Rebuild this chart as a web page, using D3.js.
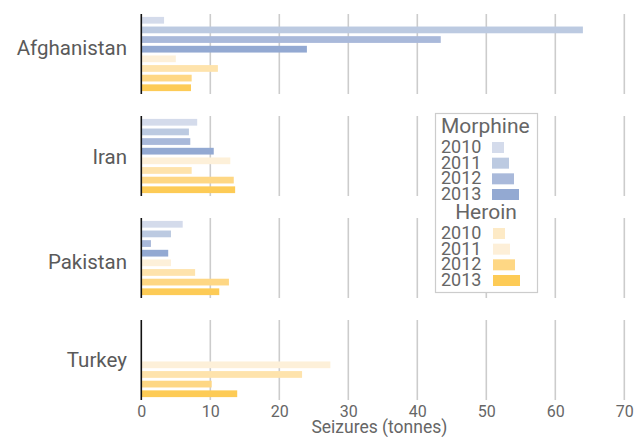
<!DOCTYPE html>
<html>
<head>
<meta charset="utf-8">
<script src="https://cdn.jsdelivr.net/npm/d3@7"></script>
<style>
  html, body { margin: 0; padding: 0; background: #fff; }
  svg { display: block; font-family: Roboto, "Liberation Sans", sans-serif; }
</style>
</head>
<body>
<svg id="chart" width="637" height="437"></svg>
<script>
// ---- data ----
const countries = ["Afghanistan", "Iran", "Pakistan", "Turkey"];
const years = ["2010", "2011", "2012", "2013"];
const drugs = ["Morphine", "Heroin"];
// values in tonnes, order: country x year
const morphine = [
  [3.3, 64.0, 43.4, 24.0],
  [8.1, 6.9, 7.1, 10.5],
  [6.0, 4.3, 1.4, 3.9],
  [null, null, null, null]
];
const heroin = [
  [5.0, 11.1, 7.3, 7.2],
  [12.9, 7.3, 13.4, 13.6],
  [4.3, 7.8, 12.7, 11.3],
  [27.4, 23.3, 10.2, 13.9]
];
const xTicks = [0, 10, 20, 30, 40, 50, 60, 70];
const xLabel = "Seizures (tonnes)";

// ---- styles ----
const morphineColors = ["#d4dbeb", "#bccae1", "#a9b9da", "#93a9d2"];
const heroinColors = ["#fdf0d9", "#fee3ac", "#fed784", "#fdcb56"];
const heroinLegendColors = ["#fdeac6", "#fdefd8", "#fed784", "#fdcb56"];
const labelNudge = [-6, 1, 4, 0];

const svg = d3.select("#chart");
const x = d3.scaleLinear().domain([0, 70]).range([141.3, 624.3]);

const panelTop = d3.scaleBand().domain(countries).range([14, 400]).paddingInner(22 / 102).paddingOuter(0);
const ph = panelTop.bandwidth();

const slots = [];
drugs.forEach(d => years.forEach(y => slots.push(d + y)));
const yb = d3.scaleBand().domain(slots).range([0, ph]).paddingInner(0.3).paddingOuter(0.3);

countries.forEach((c, ci) => {
  const g = svg.append("g").attr("transform", `translate(0,${panelTop(c)})`);
  g.selectAll("line.grid").data(xTicks.filter(t => t > 0)).join("line")
    .attr("class", "grid")
    .attr("x1", d => x(d)).attr("x2", d => x(d))
    .attr("y1", 0).attr("y2", ph)
    .attr("stroke", "#cccccc").attr("stroke-width", 1.6);
  const rows = [];
  years.forEach((y, yi) => rows.push({key: "Morphine" + y, v: morphine[ci][yi], col: morphineColors[yi]}));
  years.forEach((y, yi) => rows.push({key: "Heroin" + y, v: heroin[ci][yi], col: heroinColors[yi]}));
  g.selectAll("rect").data(rows.filter(r => r.v != null)).join("rect")
    .attr("x", x(0))
    .attr("y", d => yb(d.key))
    .attr("width", d => x(d.v) - x(0))
    .attr("height", yb.bandwidth())
    .attr("fill", d => d.col);
  g.append("line").attr("x1", x(0)).attr("x2", x(0)).attr("y1", 0).attr("y2", ph)
    .attr("stroke", "#111").attr("stroke-width", 1.6);
  g.append("text").attr("x", 127).attr("y", ph / 2 + labelNudge[ci]).attr("dy", "0.36em")
    .attr("text-anchor", "end").attr("font-size", 20.5).attr("fill", "#5a5a5a")
    .text(c);
});

// x axis
const axisY = panelTop(countries[countries.length - 1]) + ph;
const ax = svg.append("g").attr("transform", `translate(0,${axisY})`)
  .call(d3.axisBottom(x).tickValues(xTicks).tickSize(0).tickPadding(6));
ax.select(".domain").remove();
ax.selectAll("text").attr("font-size", 16).attr("fill", "#666").attr("font-family", "Roboto, sans-serif");
svg.append("text").attr("x", x(34.5)).attr("y", 433).attr("text-anchor", "middle")
  .attr("font-size", 17.5).attr("fill", "#666").text(xLabel);

// legend
const lg = svg.append("g");
lg.append("rect").attr("x", 435.5).attr("y", 113.5).attr("width", 102).attr("height", 179)
  .attr("fill", "#fff").attr("stroke", "#cccccc").attr("stroke-width", 1.2);
lg.append("text").attr("x", 441).attr("y", 133).attr("font-size", 21).attr("fill", "#666").text(drugs[0]);
lg.append("text").attr("x", 486).attr("y", 219).attr("text-anchor", "middle").attr("font-size", 21).attr("fill", "#666").text(drugs[1]);
const legRow = d3.scaleLinear().domain([0, 3]).range([0, 47]);
years.forEach((y, i) => {
  lg.append("text").attr("x", 441).attr("y", 153 + legRow(i)).attr("font-size", 18).attr("fill", "#666").text(y);
  lg.append("rect").attr("x", 492).attr("y", 142 + legRow(i)).attr("width", 12 + 5 * i).attr("height", 11).attr("fill", morphineColors[i]);
  lg.append("text").attr("x", 441).attr("y", 239 + legRow(i)).attr("font-size", 18).attr("fill", "#666").text(y);
  lg.append("rect").attr("x", 493).attr("y", 228 + legRow(i)).attr("width", 12 + 5 * i).attr("height", 11).attr("fill", heroinLegendColors[i]);
});
</script>
</body>
</html>
